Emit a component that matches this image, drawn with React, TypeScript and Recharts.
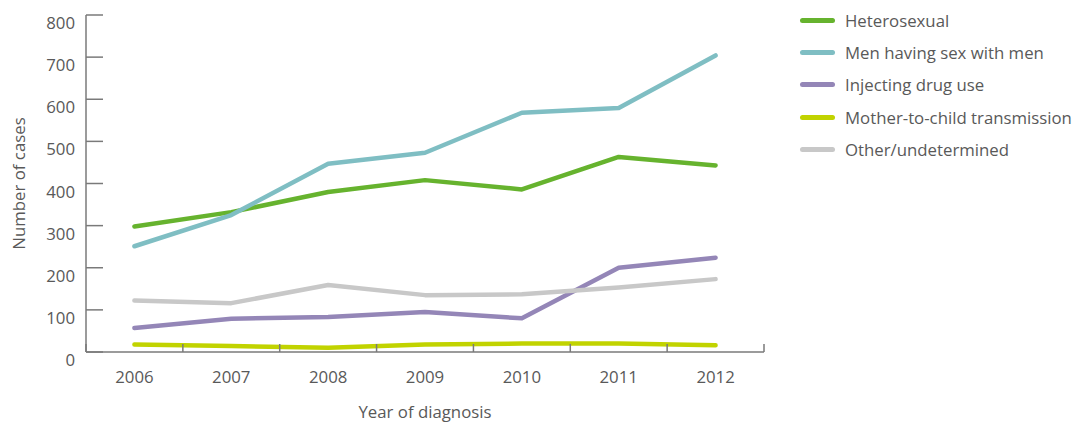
import React from "react";
import { LineChart, Line, XAxis, YAxis, Legend } from "recharts";

const years = ["2006", "2007", "2008", "2009", "2010", "2011", "2012"];
const heterosexual = [298, 332, 380, 408, 386, 463, 443];
const msm = [251, 325, 447, 473, 568, 579, 704];
const idu = [57, 79, 83, 95, 80, 200, 224];
const mtct = [18, 14, 10, 18, 20, 20, 16];
const other = [122, 116, 159, 135, 137, 153, 173];
const yTicks = [0, 100, 200, 300, 400, 500, 600, 700, 800];

const series = [
  { key: "heterosexual", name: "Heterosexual", color: "#66b32e" },
  { key: "msm", name: "Men having sex with men", color: "#7fbec3" },
  { key: "idu", name: "Injecting drug use", color: "#9486b7" },
  { key: "mtct", name: "Mother-to-child transmission", color: "#c1d300" },
  { key: "other", name: "Other/undetermined", color: "#c8c8c8" },
];

const data = years.map((year, i) => ({
  year,
  heterosexual: heterosexual[i],
  msm: msm[i],
  idu: idu[i],
  mtct: mtct[i],
  other: other[i],
}));

const W = 1081;
const H = 424;
const margin = { top: 15, right: 317, bottom: 0, left: 0 };
const yAxisWidth = 86;
const plotWidth = W - margin.left - margin.right - yAxisWidth;
const halfBand = plotWidth / years.length / 2;

const font = "'Open Sans', Lato, sans-serif";
const fontSize = 16.8;
const textColor = "#595959";
const axisColor = "#7a7a7a";

function YTick(props: any) {
  const { x, y, payload } = props;
  return (
    <g>
      <line x1={x} x2={x + 17} y1={y} y2={y} stroke={axisColor} strokeWidth={1.5} />
      <text
        x={x - 11}
        y={y + 7.5}
        textAnchor="end"
        dominantBaseline="central"
        fill={textColor}
        fontSize={fontSize}
        fontFamily={font}
      >
        {payload.value}
      </text>
    </g>
  );
}

function XTick(props: any) {
  const { x, y, payload, index } = props;
  const last = index === years.length - 1;
  return (
    <g>
      <line x1={x - halfBand} x2={x - halfBand} y1={y} y2={y - 8} stroke={axisColor} strokeWidth={1.5} />
      {last && (
        <line x1={x + halfBand} x2={x + halfBand} y1={y} y2={y - 8} stroke={axisColor} strokeWidth={1.5} />
      )}
      <text
        x={x}
        y={y + 24}
        textAnchor="middle"
        dominantBaseline="central"
        fill={textColor}
        fontSize={fontSize}
        fontFamily={font}
      >
        {payload.value}
      </text>
    </g>
  );
}

function LegendList() {
  return (
    <div style={{ fontFamily: font }}>
      {series.map((s) => (
        <div key={s.key} style={{ display: "flex", alignItems: "center", height: 32.3 }}>
          <div style={{ width: 35, height: 5, borderRadius: 3, background: s.color, marginRight: 10 }} />
          <span style={{ fontSize, color: textColor, whiteSpace: "nowrap" }}>{s.name}</span>
        </div>
      ))}
    </div>
  );
}

export default function App() {
  return (
    <div style={{ position: "absolute", left: 0, top: 0, width: W, height: H, background: "#fff" }}>
      <LineChart width={W} height={H} data={data} margin={margin}>
        <XAxis
          dataKey="year"
          height={72}
          padding={{ left: halfBand, right: halfBand }}
          tickSize={0}
          tickMargin={0}
          tickLine={false}
          tick={<XTick />}
          axisLine={{ stroke: axisColor, strokeWidth: 1.5 }}
          interval={0}
          label={{
            content: ({ viewBox }: any) => (
              <text
                x={viewBox.x + viewBox.width / 2}
                y={viewBox.y + 59}
                textAnchor="middle"
                dominantBaseline="central"
                fill={textColor}
                fontSize={fontSize}
                fontFamily={font}
              >
                Year of diagnosis
              </text>
            ),
          }}
        />
        <YAxis
          width={yAxisWidth}
          domain={[0, 800]}
          ticks={yTicks}
          interval={0}
          tickSize={0}
          tickMargin={0}
          tickLine={false}
          tick={<YTick />}
          axisLine={{ stroke: axisColor, strokeWidth: 1.5 }}
          label={{
            content: ({ viewBox }: any) => {
              const cx = viewBox.x + 18;
              const cy = viewBox.y + viewBox.height / 2;
              return (
                <text
                  x={cx}
                  y={cy}
                  transform={`rotate(-90 ${cx} ${cy})`}
                  textAnchor="middle"
                  dominantBaseline="central"
                  fill={textColor}
                  fontSize={fontSize}
                  fontFamily={font}
                >
                  Number of cases
                </text>
              );
            },
          }}
        />
        <Legend
          layout="vertical"
          align="center"
          verticalAlign="middle"
          content={<LegendList />}
          wrapperStyle={{ left: 800, top: 4, right: "auto", bottom: "auto", width: 281, transform: "none" }}
        />
        {series.map((s) => (
          <Line
            key={s.key}
            dataKey={s.key}
            name={s.name}
            stroke={s.color}
            strokeWidth={4.5}
            strokeLinecap="round"
            strokeLinejoin="round"
            dot={false}
            activeDot={false}
            isAnimationActive={false}
          />
        ))}
      </LineChart>
    </div>
  );
}
